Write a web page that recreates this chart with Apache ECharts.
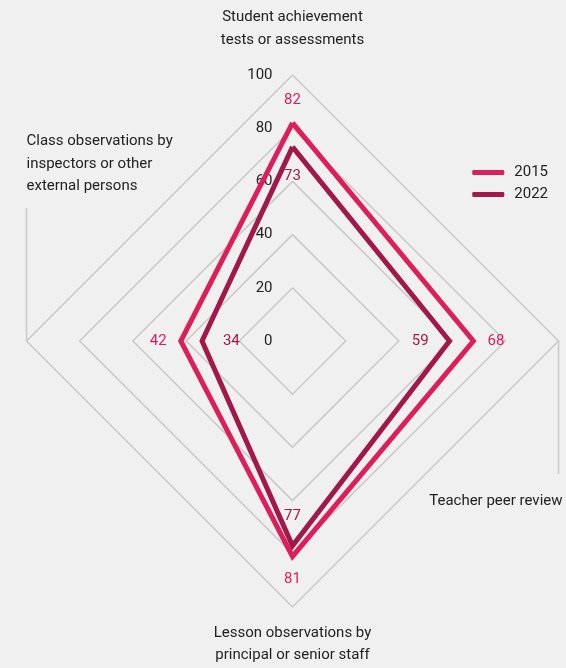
<!DOCTYPE html>
<html><head><meta charset="utf-8">
<script src="https://cdn.jsdelivr.net/npm/echarts@6/dist/echarts.min.js"></script>
<style>html,body{margin:0;padding:0;background:#f0f0f0}#c{width:566px;height:668px}</style>
</head><body><div id="c"></div>
<script>
// Indicators in ECharts order (top, then counter-clockwise: left, bottom, right)
const indicators = [
  'Student achievement\ntests or assessments',
  'Class observations by\ninspectors or other\nexternal persons',
  'Lesson observations by\nprincipal or senior staff',
  'Teacher peer review'
];
const values2015 = [82, 42, 81, 68];
const values2022 = [73, 34, 77, 59];
const seriesNames = ['2015', '2022'];
const tickMax = 100;

const C15 = '#dd1e5c', C22 = '#a1184a';
const FONT = 'Roboto';
const cx = 292.5, cy = 341, R = 266;
const OUT = 8.5, IN = -11;

const chart = echarts.init(document.getElementById('c'));
const grey = '#c9c9c9';
chart.setOption({
  backgroundColor: '#f0f0f0',
  textStyle: { fontFamily: FONT },
  legend: {
    data: seriesNames, orient: 'vertical', right: 13, top: 160,
    itemWidth: 32, itemHeight: 5, itemGap: 7, icon: 'roundRect',
    textStyle: { fontFamily: FONT, fontSize: 15, color: '#222', padding: [0, 0, 0, 5] }
  },
  radar: {
    center: [cx, cy], radius: R, shape: 'polygon', startAngle: 90,
    splitNumber: 5,
    indicator: indicators.map((n, i) => i === 0
      ? { name: n, min: 0, max: tickMax, axisLabel: { show: true } }
      : { name: n, min: 0, max: tickMax }),
    axisName: { show: false },
    axisLine: { show: false },
    axisTick: { show: false },
    splitArea: { show: false },
    splitLine: { lineStyle: { color: grey, width: 1.5 } },
    axisLabel: { show: false, margin: 20, color: '#222', fontSize: 15, fontFamily: FONT }
  },
  series: [
    {
      type: 'radar', symbol: 'none', silent: true,
      data: [
        { name: '2015', value: values2015, lineStyle: { color: C15, width: 5, join: 'miter' }, itemStyle: { color: C15 } },
        { name: '2022', value: values2022, lineStyle: { color: C22, width: 5, join: 'miter' }, itemStyle: { color: C22 } }
      ]
    },
    {
      type: 'radar', silent: true, symbol: 'circle', symbolSize: 1,
      itemStyle: { color: 'rgba(0,0,0,0)' }, lineStyle: { width: 0, opacity: 0 },
      label: { show: true, position: 'inside', fontSize: 15, fontFamily: FONT },
      data: [
        { name: 'l15', value: values2015.map(v => v + OUT),
          label: { color: C15, formatter: p => String(Math.round(p.value - OUT)) } },
        { name: 'l22', value: values2022.map(v => v + IN),
          label: { color: C22, formatter: p => String(Math.round(p.value - IN)) } }
      ]
    }
  ],
  graphic: [
    { type: 'line', silent: true, shape: { x1: cx - R, y1: cy, x2: cx - R, y2: cy - 133 }, style: { stroke: grey, lineWidth: 1.5 } },
    { type: 'line', silent: true, shape: { x1: cx + R, y1: cy, x2: cx + R, y2: cy + 133 }, style: { stroke: grey, lineWidth: 1.5 } },
    { type: 'text', silent: true, x: cx, y: 6, style: { text: indicators[0], font: '15px ' + FONT, fill: '#222', textAlign: 'center', textVerticalAlign: 'top', lineHeight: 23 } },
    { type: 'text', silent: true, x: cx - R, y: 130, style: { text: indicators[1], font: '15px ' + FONT, fill: '#222', textAlign: 'left', textVerticalAlign: 'top', lineHeight: 22.5 } },
    { type: 'text', silent: true, x: cx, y: 622, style: { text: indicators[2], font: '15px ' + FONT, fill: '#222', textAlign: 'center', textVerticalAlign: 'top', lineHeight: 22 } },
    { type: 'text', silent: true, x: cx + R + 4, y: 490, style: { text: indicators[3], font: '15px ' + FONT, fill: '#222', textAlign: 'right', textVerticalAlign: 'top', lineHeight: 22 } }
  ]
});
</script></body></html>
